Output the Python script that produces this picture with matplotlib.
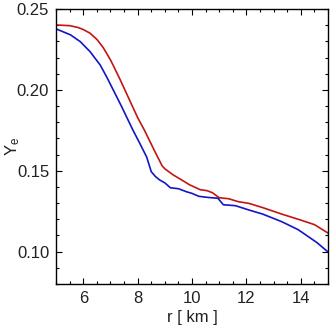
import matplotlib
matplotlib.use("Agg")
import matplotlib.pyplot as plt
from matplotlib.ticker import MultipleLocator, FormatStrFormatter

plt.rcParams["font.family"] = ["Liberation Sans", "DejaVu Sans"]
plt.rcParams["mathtext.fontset"] = "custom"
plt.rcParams["mathtext.rm"] = "Liberation Sans"

# Y_e profiles vs radius
r_red = [5.0, 5.5, 5.8, 6.0, 6.25, 6.5, 6.73, 7.0, 7.09, 7.35, 8.0, 8.25, 8.6, 8.9,
         9.0, 9.3, 9.6, 9.9, 10.3, 10.55, 10.75, 11.0, 11.35, 11.7, 12.1, 12.6,
         13.3, 14.0, 14.5, 15.0]
ye_red = [0.2401, 0.2397, 0.2386, 0.2373, 0.2350, 0.2312, 0.2262, 0.2185, 0.2155,
          0.2065, 0.1828, 0.1750, 0.1630, 0.1530, 0.1512, 0.1475, 0.1445, 0.1414,
          0.1383, 0.1377, 0.1364, 0.1333, 0.1327, 0.1309, 0.1298, 0.1272, 0.1232,
          0.1195, 0.1167, 0.1115]

r_blue = [5.0, 5.53, 5.89, 6.25, 6.62, 6.86, 7.4, 7.82, 8.07, 8.33, 8.5, 8.65,
          8.8, 9.0, 9.2, 9.5, 9.8, 10.0, 10.25, 10.6, 10.95, 11.15, 11.6, 12.1,
          12.6, 13.3, 13.9, 14.3, 14.6, 15.0]
ye_blue = [0.2377, 0.2340, 0.2298, 0.2236, 0.2154, 0.2080, 0.1900, 0.1753, 0.1672,
           0.1585, 0.1494, 0.1465, 0.1444, 0.1425, 0.1395, 0.1389, 0.1370, 0.1360,
           0.1342, 0.1335, 0.1330, 0.1290, 0.1284, 0.1257, 0.1232, 0.1185, 0.1136,
           0.1090, 0.1055, 0.0998]

fig = plt.figure(figsize=(3.32, 3.27), dpi=100)
ax = fig.add_axes([0.169, 0.1315, 0.819, 0.841])
ax.plot(r_red, ye_red, color="#c41414", lw=1.2)
ax.plot(r_blue, ye_blue, color="#1414c8", lw=1.2)

ax.set_xlim(5, 15)
ax.set_ylim(0.08, 0.25)
ax.xaxis.set_major_locator(MultipleLocator(2))
ax.xaxis.set_minor_locator(MultipleLocator(0.5))
ax.yaxis.set_major_locator(MultipleLocator(0.05))
ax.yaxis.set_minor_locator(MultipleLocator(0.01))
ax.yaxis.set_major_formatter(FormatStrFormatter("%.2f"))
ax.tick_params(which="both", direction="in", top=True, right=True,
               labelsize=12, colors="black", labelcolor="#222222", width=0.8)
ax.tick_params(which="major", length=4, pad=5)
ax.tick_params(which="minor", length=2)
for s in ax.spines.values():
    s.set_linewidth(1.0)

ax.set_xlabel("r [ km ]", fontsize=12, color="#222222", labelpad=3)
ax.set_ylabel(r"$\mathrm{Y_e}$", fontsize=12, color="#222222")
ax.yaxis.set_label_coords(-0.125, 0.5)

fig.savefig("out.png", dpi=100)
